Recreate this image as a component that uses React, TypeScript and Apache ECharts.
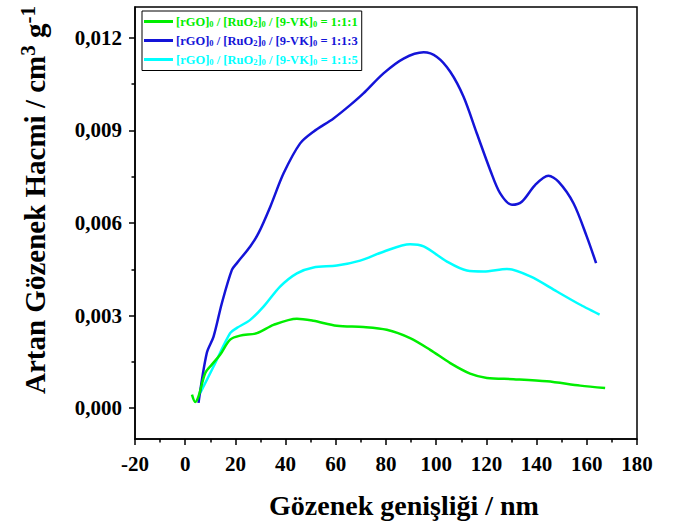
import React, { useEffect, useRef } from 'react';
import * as echarts from 'echarts';

const seriesNames = ['1:1:1', '1:1:3', '1:1:5'];
const colors = ['#00EE00', '#1414D8', '#00FFFF'];
const colorKeys = ['g', 'b', 'c'];

const yTickValues = [0, 0.003, 0.006, 0.009, 0.012];
const yMinorValues = [0.0015, 0.0045, 0.0075, 0.0105];

const greenX = [2.7, 4, 5.3, 8, 10.6, 13.9, 17.9, 21.9, 28.6, 35.2, 44.5, 51.1, 60.4, 71, 80.3, 89.6, 97.6, 105.6, 113.5, 120.2, 130.8, 144.1, 157.4, 167.3];
const greenY = [0.00044, 0.0002, 0.00038, 0.00114, 0.00141, 0.00173, 0.00222, 0.00235, 0.00243, 0.0027, 0.0029, 0.00283, 0.00267, 0.00263, 0.00254, 0.00227, 0.00189, 0.00146, 0.00112, 0.00098, 0.00094, 0.00087, 0.00073, 0.00065];

const blueX = [5.3, 8.6, 11.3, 14.6, 18.6, 20.6, 25.9, 29.2, 33.9, 39.2, 45.8, 51.1, 59.1, 65.7, 71, 79, 87, 95, 100.3, 105.6, 110.9, 116.2, 121.5, 125.5, 130.2, 134.1, 139.4, 144.7, 148.7, 154.7, 160, 163.7];
const blueY = [0.00017, 0.00179, 0.00232, 0.0034, 0.00448, 0.0047, 0.00524, 0.00567, 0.00653, 0.00761, 0.00858, 0.00896, 0.00939, 0.00982, 0.0102, 0.01085, 0.01133, 0.01153, 0.01138, 0.0109, 0.01009, 0.0089, 0.00772, 0.00696, 0.00659, 0.00669, 0.00723, 0.00753, 0.00734, 0.00664, 0.00556, 0.0047];

const cyanX = [6, 11.3, 17.9, 20.6, 25.9, 31.2, 37.8, 44.5, 51.1, 60.4, 69.7, 79, 89.6, 95, 104.3, 112.2, 118.9, 128.2, 137.5, 148.1, 157.4, 165.1];
const cyanY = [0.00049, 0.00135, 0.00243, 0.0026, 0.00286, 0.00329, 0.00394, 0.00437, 0.00456, 0.00462, 0.00478, 0.00507, 0.00531, 0.00524, 0.00475, 0.00446, 0.00443, 0.00451, 0.00427, 0.00378, 0.00335, 0.00303];

const xs = [greenX, blueX, cyanX];
const ys = [greenY, blueY, cyanY];

const FONT = '"Liberation Serif", "Times New Roman", serif';

export default function App() {
  const ref = useRef<HTMLDivElement>(null);
  useEffect(() => {
    if (!ref.current) return;
    const chart = echarts.init(ref.current, undefined, { renderer: 'svg' });

    const legendRich: any = {};
    colorKeys.forEach((k, i) => {
      legendRich[k] = { color: colors[i], fontSize: 12.5, fontWeight: 'bold', fontFamily: FONT, lineHeight: 14 };
      legendRich[k + 's'] = { color: colors[i], fontSize: 8.5, fontWeight: 'bold', fontFamily: FONT, lineHeight: 5, verticalAlign: 'bottom' };
    });

    const option: any = {
      animation: false,
      backgroundColor: '#fff',
      grid: { left: 135, right: 55, top: 7, bottom: 84, show: true, borderColor: '#000', borderWidth: 1.5, containLabel: false },
      legend: {
        orient: 'vertical',
        left: 142,
        top: 11,
        padding: [4, 4, 4, 2],
        itemGap: 5.5,
        itemWidth: 29,
        itemHeight: 3,
        icon: 'rect',
        borderColor: '#000',
        borderWidth: 1,
        backgroundColor: '#fff',
        data: seriesNames,
        textStyle: { fontFamily: FONT, fontWeight: 'bold', fontSize: 12.5, rich: legendRich, padding: [0, 0, 0, -2] },
        formatter: (name: string) => {
          const k = colorKeys[seriesNames.indexOf(name)];
          return `{${k}|[rGO]}{${k}s|0}{${k}| / [RuO}{${k}s|2}{${k}|]}{${k}s|0}{${k}| / [9-VK]}{${k}s|0}{${k}| = ${name}}`;
        },
      },
      xAxis: {
        type: 'value',
        min: -20,
        max: 180,
        interval: 20,
        axisLine: { show: true, onZero: false, lineStyle: { color: '#000', width: 1.5 } },
        axisTick: { show: true, inside: false, length: 6, lineStyle: { color: '#000', width: 1.5 } },
        minorTick: { show: true, splitNumber: 2, length: 3.5, lineStyle: { color: '#000', width: 1.5 } },
        splitLine: { show: false },
        axisLabel: { color: '#000', fontFamily: FONT, fontWeight: 'bold', fontSize: 21, margin: 14 },
      },
      yAxis: [
        {
          type: 'value',
          min: -0.001,
          max: 0.013,
          axisLine: { show: true, onZero: false, lineStyle: { color: '#000', width: 1.5 } },
          axisTick: { show: true, inside: false, length: 6, customValues: yTickValues, lineStyle: { color: '#000', width: 1.5 } },
          splitLine: { show: false },
          axisLabel: {
            customValues: yTickValues,
            color: '#000',
            fontFamily: FONT,
            fontWeight: 'bold',
            fontSize: 21,
            margin: 13,
            formatter: (v: number) => v.toFixed(3).replace('.', ','),
          },
        },
        {
          type: 'value',
          position: 'left',
          min: -0.001,
          max: 0.013,
          axisLine: { show: false, onZero: false },
          axisTick: { show: true, inside: false, length: 3.5, customValues: yMinorValues, lineStyle: { color: '#000', width: 1.5 } },
          splitLine: { show: false },
          axisLabel: { show: false },
        },
      ],
      series: seriesNames.map((n, i) => ({
        name: n,
        type: 'line',
        data: xs[i].map((x, j) => [x, ys[i][j]]),
        showSymbol: false,
        smooth: 0.3,
        lineStyle: { color: colors[i], width: 2.5 },
        itemStyle: { color: colors[i] },
        z: 3 - i,
      })),
      graphic: [
        {
          type: 'text',
          x: 35,
          y: 200,
          rotation: Math.PI / 2,
          style: {
            text: '{m|Artan Gözenek Hacmi / cm}{s|3}{m| g}{s|-1}',
            align: 'center',
            verticalAlign: 'middle',
            fill: '#000',
            rich: {
              m: { fontFamily: FONT, fontWeight: 'bold', fontSize: 29, lineHeight: 36, fill: '#000' },
              s: { fontFamily: FONT, fontWeight: 'bold', fontSize: 21, lineHeight: 21, verticalAlign: 'top', fill: '#000' },
            },
          },
        },
        {
          type: 'text',
          x: 404,
          y: 505,
          style: {
            text: 'Gözenek genişliği / nm',
            align: 'center',
            verticalAlign: 'middle',
            fill: '#000',
            fontFamily: FONT,
            fontWeight: 'bold',
            fontSize: 28,
          },
        },
      ],
    };
    chart.setOption(option);
    return () => chart.dispose();
  }, []);
  return <div ref={ref} style={{ width: 692, height: 523, position: 'absolute', left: 0, top: 0 }} />;
}
